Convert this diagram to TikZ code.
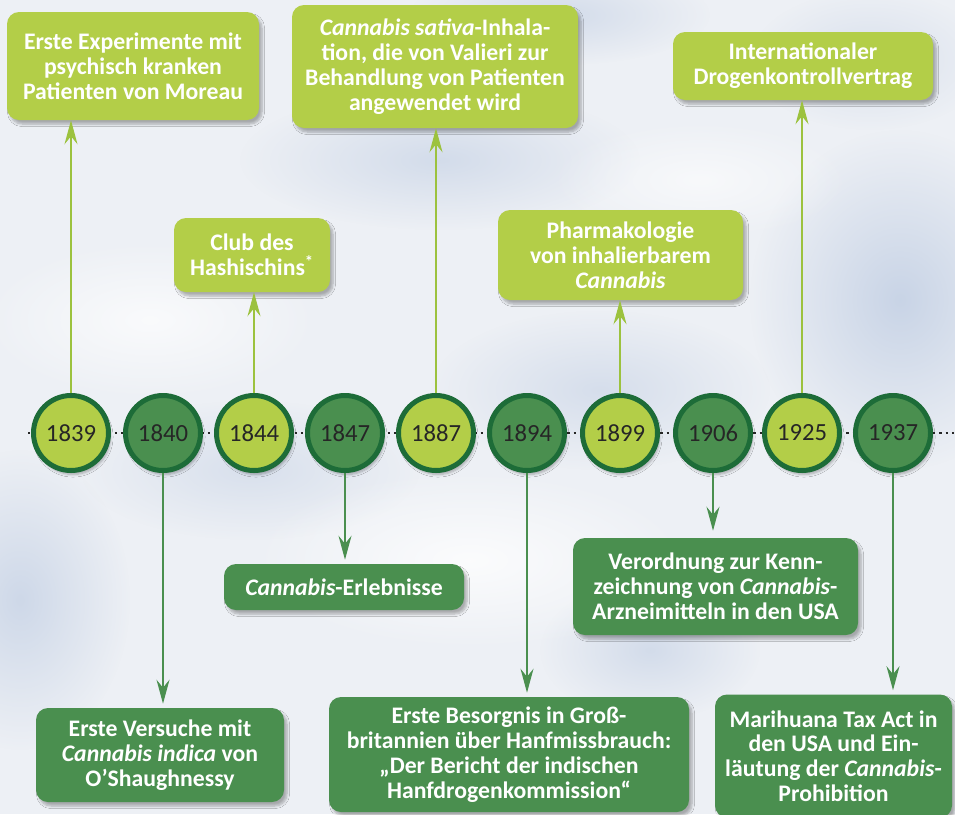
\documentclass[tikz,border=0pt]{standalone}
\usepackage{fontspec}
\setmainfont{Carlito}
\usetikzlibrary{arrows.meta,shadows.blur,fadings}
\definecolor{lgreen}{HTML}{B3CE48}
\definecolor{dgreen}{HTML}{4A8F4F}
\definecolor{ring}{HTML}{1D6C38}
\definecolor{lline}{HTML}{9CC23E}
\definecolor{bgc}{HTML}{EDF0F5}
\definecolor{cloudc}{HTML}{B9C8E0}
\definecolor{yeartext}{HTML}{262626}
\tikzfading[name=softcloud, inner color=transparent!0, outer color=transparent!100]
\begin{document}
\begin{tikzpicture}[x=0.75pt,y=-0.75pt,
  boxbase/.style={rounded corners=9pt, text=white, align=center, inner sep=0pt,
    font=\bfseries\fontsize{17.8}{18.6}\selectfont,
    blur shadow={shadow blur steps=6, shadow xshift=2.25pt, shadow yshift=-3pt, shadow opacity=30}},
  lbox/.style={boxbase, fill=lgreen},
  dbox/.style={boxbase, fill=dgreen},
  yearbase/.style={circle, draw=ring, line width=3.75pt, minimum size=56.25pt, inner sep=0pt,
    font=\fontsize{18.5}{18.5}\selectfont, text=yeartext,
    blur shadow={shadow blur steps=6, shadow xshift=1.5pt, shadow yshift=-3pt, shadow opacity=30}},
  yl/.style={yearbase, fill=lgreen},
  yd/.style={yearbase, fill=dgreen},
  cloud/.style={fill=cloudc, path fading=softcloud},
  larr/.style={draw=lline, line width=1.125pt, -{Stealth[length=18pt,width=9.75pt,inset=6pt]}},
  darr/.style={draw=dgreen, line width=1.125pt, shorten >=3pt, -{Stealth[length=18pt,width=9.75pt,inset=6pt]}}
]
\useasboundingbox (0,0) rectangle (955,814);
\fill[bgc] (0,0) rectangle (955,814);
% clouds
\fill[cloud, fill opacity=0.7] (900,300) ellipse [x radius=150, y radius=170];
\fill[cloud, fill opacity=0.6] (20,600) ellipse [x radius=110, y radius=150];
\fill[cloud, fill opacity=0.5] (440,160) ellipse [x radius=200, y radius=70];
\fill[cloud, fill opacity=0.5] (650,650) ellipse [x radius=110, y radius=70];
\fill[cloud, fill opacity=0.5] (560,15) ellipse [x radius=150, y radius=50];
\fill[cloud, fill opacity=0.45] (600,390) ellipse [x radius=170, y radius=80];
\fill[cloud, fill opacity=0.4] (250,470) ellipse [x radius=170, y radius=70];
\fill[cloud, fill opacity=0.4] (870,60) ellipse [x radius=120, y radius=70];
\fill[white, path fading=softcloud, fill opacity=0.8] (470,560) ellipse [x radius=220, y radius=90];
\fill[white, path fading=softcloud, fill opacity=0.7] (150,320) ellipse [x radius=170, y radius=80];
\fill[white, path fading=softcloud, fill opacity=0.6] (700,180) ellipse [x radius=150, y radius=60];

% timeline
\coordinate (tl0) at (28,433);
\coordinate (tl1) at (955,433);
\draw[yeartext, line width=1.65pt, dash pattern=on 1.65pt off 3pt] (tl0) -- (tl1);

% year circles
\node[yl] (c1839) at (71,433) {1839};
\node[yd] (c1840) at (163,433) {1840};
\node[yl] (c1844) at (254,433) {1844};
\node[yd] (c1847) at (345,433) {1847};
\node[yl] (c1887) at (436,433) {1887};
\node[yd] (c1894) at (527,433) {1894};
\node[yl] (c1899) at (620,433) {1899};
\node[yd] (c1906) at (713,433) {1906};
\node[yl] (c1925) at (802,433) {1925};
\node[yd] (c1937) at (893,433) {1937};

% upper boxes
\node[lbox, minimum width=189pt, minimum height=81pt] (b1) at (133,66)
  {Erste Experimente mit\\psychisch kranken\\Patienten von Moreau};
\node[lbox, minimum width=117pt, minimum height=55.5pt] (b2) at (252,255)
  {Club des\\Hashischins\textsuperscript{*}};
\node[lbox, minimum width=214.5pt, minimum height=92.25pt] (b3) at (435,66.5)
  {\textit{Cannabis sativa}-Inhala-\\tion, die von Valieri zur\\Behandlung von Patienten\\angewendet wird};
\node[lbox, minimum width=183.75pt, minimum height=67.5pt] (b4) at (620.5,255)
  {Pharmakologie\\von inhalierbarem\\\textit{Cannabis}};
\node[lbox, minimum width=195pt, minimum height=51pt] (b5) at (803,66)
  {Internationaler\\Drogenkontrollvertrag};

% lower boxes
\node[dbox, minimum width=186pt, minimum height=70.5pt] (b6) at (160,755)
  {Erste Versuche mit\\\textit{Cannabis indica} von\\O’Shaughnessy};
\node[dbox, minimum width=180pt, minimum height=34.5pt] (b7) at (344,587)
  {\textit{Cannabis}-Erlebnisse};
\node[dbox, minimum width=270pt, minimum height=86.25pt] (b8) at (509,754.5)
  {Erste Besorgnis in Groß-\\britannien über Hanfmissbrauch:\\„Der Bericht der indischen\\Hanfdrogenkommission“};
\node[dbox, minimum width=213.75pt, minimum height=72.75pt] (b9) at (715.5,586.5)
  {Verordnung zur Kenn-\\zeichnung von \textit{Cannabis}-\\Arzneimitteln in den USA};
\node[dbox, minimum width=177.75pt, minimum height=92.25pt] (b10) at (833.5,756)
  {Marihuana Tax Act in\\den USA und Ein-\\läutung der \textit{Cannabis}-\\Prohibition};

% connectors
\draw[larr] (c1839.north) -- (c1839.north |- b1.south);
\draw[larr] (c1844.north) -- (c1844.north |- b2.south);
\draw[larr] (c1887.north) -- (c1887.north |- b3.south);
\draw[larr] (c1899.north) -- (c1899.north |- b4.south);
\draw[larr] (c1925.north) -- (c1925.north |- b5.south);
\draw[darr] (c1840.south) -- (c1840.south |- b6.north);
\draw[darr] (c1847.south) -- (c1847.south |- b7.north);
\draw[darr] (c1894.south) -- (c1894.south |- b8.north);
\draw[darr, shorten >=5.25pt] (c1906.south) -- (c1906.south |- b9.north);
\draw[darr] (c1937.south) -- (c1937.south |- b10.north);
\end{tikzpicture}
\end{document}
